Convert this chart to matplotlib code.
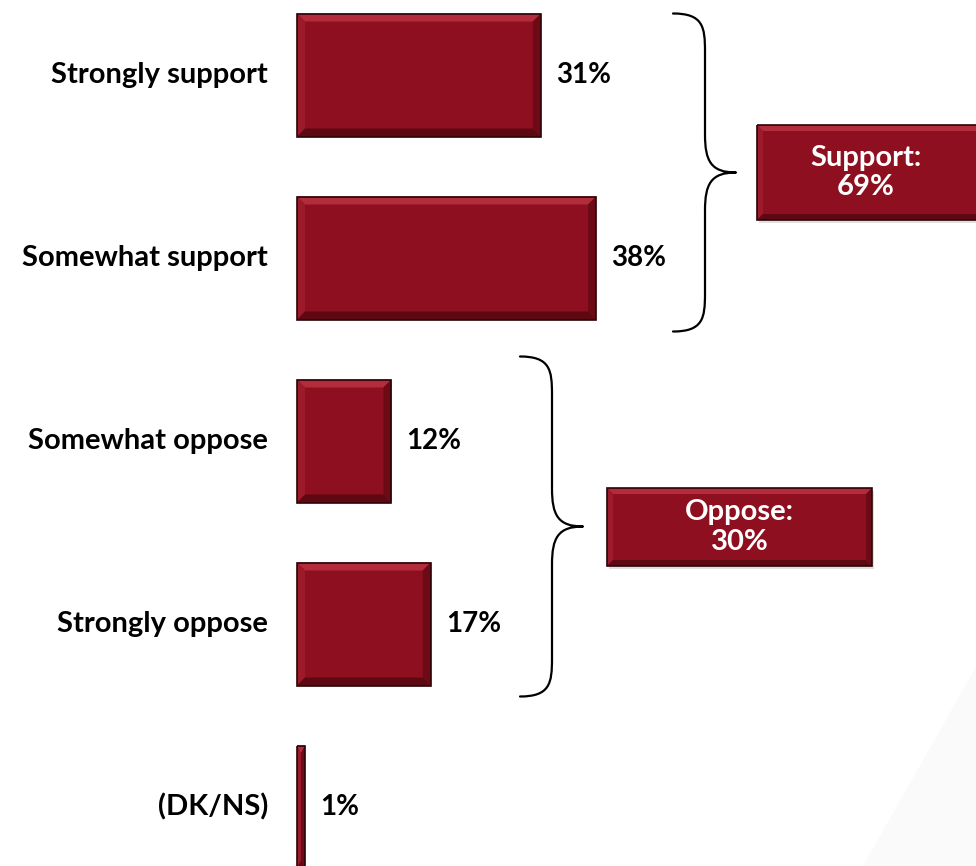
"""Support/oppose horizontal bar chart with bevelled bars, group braces and total boxes."""

import matplotlib

matplotlib.use("Agg")
import matplotlib.pyplot as plt  # noqa: E402
from matplotlib.patches import Polygon, PathPatch  # noqa: E402
from matplotlib.path import Path  # noqa: E402

categories = ["Strongly support", "Somewhat support", "Somewhat oppose",
              "Strongly oppose", "(DK/NS)"]
values = [31, 38, 12, 17, 1]
group_names = ["Support", "Oppose"]
group_totals = [69, 30]
group_rows = [(0, 1), (2, 3)]

BAR = "#8e0f20"
LIGHT = "#b22c3c"
DARK = "#5e0812"
EDGE = "#2a0307"
FONT = "Lato"

W, H, DPI = 976, 866, 100
PX_PER_PCT = 7.87
X0_PX = 297
ROW_PX = 183
ROW0_PX = 75

plt.rcParams["font.family"] = [FONT, "DejaVu Sans"]
fig = plt.figure(figsize=(W / DPI, H / DPI), dpi=DPI)

# faint background wedge in the lower right corner
fig.patches.append(Polygon([(976 / W, 1 - 667 / H), (1, 0), (863 / W, 0)],
                           closed=True, transform=fig.transFigure,
                           facecolor="#fafafa", edgecolor="none", zorder=0))

ax = fig.add_axes([X0_PX / W, 0, 1 - X0_PX / W, 1])
ax.set_xlim(0, (W - X0_PX) / PX_PER_PCT)
ax.set_ylim((H - ROW0_PX) / ROW_PX, -ROW0_PX / ROW_PX)
ax.axis("off")
ax.patch.set_alpha(0)

px_x = 1 / PX_PER_PCT   # one pixel in x data units
px_y = 1 / ROW_PX       # one pixel in y data units


def bevel(ax, x, y, w, h, bw=8, zorder=3):
    """Lighten the top/left and darken the bottom/right of a rectangle."""
    dx = min(bw * px_x, w / 2)
    dy = min(bw * px_y, h / 2)
    x1, y1 = x + w, y + h  # y axis is inverted: y is top, y1 is bottom
    faces = [
        ([(x, y), (x1, y), (x1 - dx, y + dy), (x + dx, y + dy)], LIGHT),
        ([(x, y), (x + dx, y + dy), (x + dx, y1 - dy), (x, y1)], "#9c1a2a"),
        ([(x, y1), (x + dx, y1 - dy), (x1 - dx, y1 - dy), (x1, y1)], DARK),
        ([(x1, y), (x1, y1), (x1 - dx, y1 - dy), (x1 - dx, y + dy)], "#6c0a16"),
    ]
    for pts, c in faces:
        ax.add_patch(Polygon(pts, closed=True, facecolor=c, edgecolor="none",
                             zorder=zorder, clip_on=False))
    ax.add_patch(plt.Rectangle((x, y), w, h, facecolor="none", edgecolor=EDGE,
                               linewidth=1.2, zorder=zorder + 1, clip_on=False))


bars = ax.barh(range(len(values)), values, height=123 / ROW_PX, color=BAR,
               edgecolor="none", zorder=2)
for rect, v, name in zip(bars, values, categories):
    bevel(ax, rect.get_x(), rect.get_y(), rect.get_width(), rect.get_height())
    yc = rect.get_y() + rect.get_height() / 2
    ax.text(v + 15 * px_x, yc, f"{v}%", ha="left", va="center",
            fontsize=20, fontweight="bold", color="black")
    ax.text(-29 * px_x, yc, name, ha="right", va="center",
            fontsize=21, fontweight="bold", color="black", clip_on=False)


def brace(ax, x_tip, y_top, y_bot, reach=32, depth=31):
    """Right-pointing curly brace spanning y_top..y_bot."""
    xv = x_tip + reach * px_x
    xp = xv + depth * px_x
    ym = (y_top + y_bot) / 2
    ry = 38 * px_y
    verts = [
        (x_tip, y_top),
        (xv - 2 * px_x, y_top), (xv, y_top + ry * 0.35), (xv, y_top + ry),
        (xv, ym - ry),
        (xv, ym - ry * 0.3), (xv + 6 * px_x, ym), (xp, ym),
        (xv + 6 * px_x, ym), (xv, ym + ry * 0.3), (xv, ym + ry),
        (xv, y_bot - ry),
        (xv, y_bot - ry * 0.35), (xv - 2 * px_x, y_bot), (x_tip, y_bot),
    ]
    codes = [Path.MOVETO,
             Path.CURVE4, Path.CURVE4, Path.CURVE4,
             Path.LINETO,
             Path.CURVE4, Path.CURVE4, Path.CURVE4,
             Path.CURVE4, Path.CURVE4, Path.CURVE4,
             Path.LINETO,
             Path.CURVE4, Path.CURVE4, Path.CURVE4]
    ax.add_patch(PathPatch(Path(verts, codes), facecolor="none",
                           edgecolor="black", linewidth=1.6, zorder=3,
                           capstyle="round", joinstyle="round"))


# brace and total box for each group
brace_tip = [673, 520]
brace_pad = [(0, 12), (23, 11)]
box_span = [(757, 1000, 125, 220), (607, 872, 488, 566)]
for (r0, r1), tip, (pt, pb), name, total, (bx0, bx1, by0, by1) in zip(
        group_rows, brace_tip, brace_pad, group_names, group_totals, box_span):
    top = bars[r0].get_y() - pt * px_y
    bot = bars[r1].get_y() + bars[r1].get_height() + pb * px_y
    brace(ax, (tip - X0_PX) / PX_PER_PCT, top, bot)

    bx = (bx0 - X0_PX) / PX_PER_PCT
    bw = (bx1 - bx0) / PX_PER_PCT
    by = (by0 - ROW0_PX) / ROW_PX
    bh = (by1 - by0) / ROW_PX
    # soft drop shadow under the box
    ax.add_patch(plt.Rectangle((bx + 2 * px_x, by + 3 * px_y), bw, bh,
                               facecolor="#999999", alpha=0.3,
                               edgecolor="none", zorder=2, clip_on=False))
    ax.add_patch(plt.Rectangle((bx, by), bw, bh, facecolor=BAR,
                               edgecolor="none", zorder=3, clip_on=False))
    bevel(ax, bx, by, bw, bh, bw=6)
    cx = ((bx0 + min(bx1, 975)) / 2 - X0_PX) / PX_PER_PCT
    ax.text(cx, by + bh / 2, f"{name}:\n{total}%", ha="center", va="center",
            fontsize=21, fontweight="bold", color="white", linespacing=1.15,
            zorder=5)

fig.savefig("out.png", dpi=DPI)
